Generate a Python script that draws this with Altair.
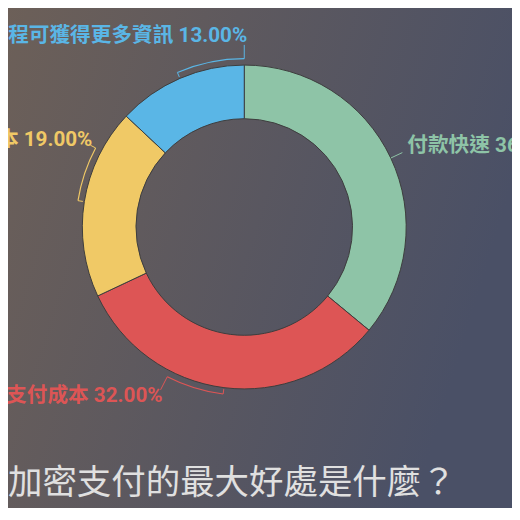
import math
import altair as alt
import pandas as pd

# ---- data ----
categories = ["付款快速", "降低實際支付成本", "節省時間成本", "交易過程可獲得更多資訊"]
values = [36, 32, 19, 13]
colors = ["#8ec4a7", "#dd5555", "#f0c966", "#5ab6e6"]
title_text = "加密支付的最大好處是什麼？"

# ---- layout / style ----
W, H = 512, 500
CX, CY = 240, 218.5
R_IN, R_OUT = 110, 164.5
R_BR = 171
TICK = 5
bracket_span = [0, 20, 19, 23.4]      # degrees, clockwise from slice middle
connector_len = [13, 15, 6, 14]
label_dx = [5, 2, 2, 3]
label_dy = [-7, 6, -5, -9]
label_align = ["left", "right", "right", "right"]
LABEL_FONT = "Roboto, 'Noto Sans CJK TC', sans-serif"

total = float(sum(values))
mids, cum = [], 0.0
for v in values:
    a0 = cum / total * 360
    cum += v
    a1 = cum / total * 360
    mids.append((a0 + a1) / 2)


def pt(ang, r):
    a = math.radians(ang)
    return CX + r * math.sin(a), CY - r * math.cos(a)


donut_df = pd.DataFrame({"category": categories, "value": values,
                         "color": colors, "idx": list(range(len(values)))})

br_rows, rule_rows, lab_rows = [], [], []
for i, (c, v, col) in enumerate(zip(categories, values, colors)):
    m = mids[i]
    sp = bracket_span[i]
    if sp > 0:
        br_rows.append({"t0": math.radians(m), "t1": math.radians(m + sp), "color": col})
        x1, y1 = pt(m, R_BR)
        x2, y2 = pt(m, R_BR - TICK)
        rule_rows.append({"x": x1, "y": y1, "x2": x2, "y2": y2, "color": col})
        r0 = R_BR
    else:
        r0 = R_OUT
    sx, sy = pt(m + sp, r0)
    ex, ey = pt(m + sp, r0 + connector_len[i])
    rule_rows.append({"x": sx, "y": sy, "x2": ex, "y2": ey, "color": col})
    lab_rows.append({"lx": ex + label_dx[i], "ly": ey + label_dy[i],
                     "label": f"{c} {v:.2f}%", "color": col, "align": label_align[i]})

br_df = pd.DataFrame(br_rows)
rule_df = pd.DataFrame(rule_rows)
lab_df = pd.DataFrame(lab_rows)
dummy = pd.DataFrame({"a": [0]})

gradient = {
    "gradient": "linear",
    "x1": 0, "y1": 0, "x2": 1, "y2": 0.3,
    "stops": [{"offset": 0, "color": "#6d6058"},
              {"offset": 1, "color": "#4a5066"}],
}

background = alt.Chart(dummy).mark_rect(fill=gradient).encode(
    x=alt.value(-10), x2=alt.value(W + 10), y=alt.value(-10), y2=alt.value(H + 10)
)

donut = alt.Chart(donut_df).mark_arc(
    innerRadius=R_IN, outerRadius=R_OUT, stroke="#3d3d3d", strokeWidth=1
).encode(
    theta=alt.Theta("value:Q", stack=True),
    order=alt.Order("idx:Q"),
    color=alt.Color("color:N", scale=None),
    x=alt.value(CX), y=alt.value(CY),
)

brackets = alt.Chart(br_df).mark_arc(radius=R_BR + 0.6, radius2=R_BR - 0.6).encode(
    theta=alt.Theta("t0:Q", scale=None, stack=False),
    theta2="t1:Q",
    color=alt.Color("color:N", scale=None),
    x=alt.value(CX), y=alt.value(CY),
)

rules = alt.Chart(rule_df).mark_rule(strokeWidth=1).encode(
    x=alt.X("x:Q", scale=None), y=alt.Y("y:Q", scale=None),
    x2="x2:Q", y2="y2:Q",
    color=alt.Color("color:N", scale=None),
)


def label_layer(align):
    return alt.Chart(lab_df).transform_filter(
        alt.datum.align == align
    ).mark_text(
        align=align, baseline="middle", font=LABEL_FONT, fontSize=21, fontWeight="bold"
    ).encode(
        x=alt.X("lx:Q", scale=None), y=alt.Y("ly:Q", scale=None),
        text="label:N",
        color=alt.Color("color:N", scale=None),
    )


title = alt.Chart(dummy).mark_text(
    text=title_text, align="left", baseline="middle", fontSize=35,
    color="#e0e0e0", font="'Noto Sans CJK TC', sans-serif",
).encode(x=alt.value(0), y=alt.value(479))

chart = alt.layer(
    background, donut, brackets, rules, label_layer("left"), label_layer("right"), title
).resolve_scale(theta="independent").properties(
    width=W, height=H, autosize=alt.AutoSizeParams(type="none"), padding=0
).configure_view(strokeWidth=0)

chart.save("out.html", embed_options={"renderer": "svg", "actions": False})
